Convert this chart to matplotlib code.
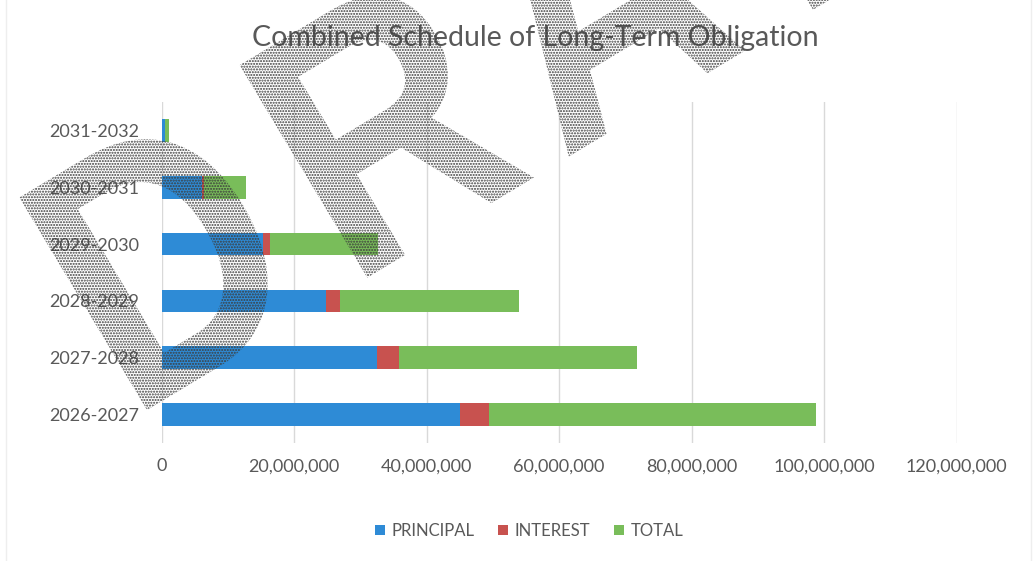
import matplotlib
matplotlib.use("Agg")
import matplotlib.pyplot as plt
from matplotlib.textpath import TextPath
from matplotlib.patches import PathPatch, Rectangle
from matplotlib.font_manager import FontProperties
from matplotlib.transforms import Affine2D
from matplotlib.ticker import FuncFormatter

# data (values in dollars)
periods = ["2026-2027", "2027-2028", "2028-2029", "2029-2030", "2030-2031", "2031-2032"]
principal = [45.0e6, 32.5e6, 24.9e6, 15.3e6, 6.05e6, 0.55e6]
interest = [4.4e6, 3.4e6, 2.1e6, 1.05e6, 0.3e6, 0.05e6]
total = [49.4e6, 35.9e6, 27.0e6, 16.35e6, 6.35e6, 0.6e6]

series_names = ["PRINCIPAL", "INTEREST", "TOTAL"]
colors = ["#2E8BD6", "#C8524F", "#79BD5A"]
title = "Combined Schedule of Long-Term Obligation"

plt.rcParams["font.family"] = ["Lato", "DejaVu Sans"]
text_gray = "#595959"

fig = plt.figure(figsize=(10.36, 5.61), dpi=100)
ax = fig.add_axes([161.5 / 1036, 118 / 561, 795 / 1036, 341 / 561])

y = range(len(periods))
left = [0] * len(periods)
for name, vals, c in zip(series_names, [principal, interest, total], colors):
    ax.barh(y, vals, left=left, height=0.4, color=c, label=name, zorder=2)
    left = [l + v for l, v in zip(left, vals)]

ax.set_xlim(0, 120e6)
ax.set_ylim(-0.5, len(periods) - 0.5)
ax.set_xticks([0, 20e6, 40e6, 60e6, 80e6, 100e6, 120e6])
ax.xaxis.set_major_formatter(FuncFormatter(lambda v, p: f"{int(v):,}"))
ax.set_yticks(list(y))
ax.set_yticklabels(periods)
ax.tick_params(axis="both", length=0, labelsize=13, labelcolor=text_gray)
ax.tick_params(axis="y", pad=16)
ax.tick_params(axis="x", pad=11)
ax.grid(axis="x", color="#d9d9d9", linewidth=1, zorder=0)
for s in ax.spines.values():
    s.set_visible(False)

fig.text(535.5 / 1036, 1 - 38 / 561, title, ha="center", va="center",
         fontsize=20.5, color=text_gray)

fig.legend(loc="center", bbox_to_anchor=(529 / 1036, 1 - 531 / 561), ncol=3,
           frameon=False, fontsize=12, labelcolor=text_gray,
           handlelength=0.6, handleheight=0.6, handletextpad=0.4,
           columnspacing=1.4)

# DRAFT watermark laid over the chart (pixel coordinates, y up)
wm = fig.add_axes([0, 0, 1, 1], zorder=5)
wm.set_xlim(0, 1036)
wm.set_ylim(0, 561)
wm.axis("off")
wm.patch.set_alpha(0)

# faint outer frame of the chart area
wm.add_patch(Rectangle((6, -2), 1025, 565, facecolor="none",
                       edgecolor="#eeeeee", lw=1))

fp = FontProperties(family="Liberation Sans", weight="bold")
cap = 258           # letter height in px
squeeze = 0.85      # letters are narrower than the font
letter_offsets = [0, 257, 492, 777, 995]
for ch, off in zip("DRAFT", letter_offsets):
    tp = TextPath((0, 0), ch, size=1, prop=fp)
    ext = tp.get_extents()
    k = cap / 0.716
    tr = (Affine2D().translate(-ext.x0, 0).scale(k * squeeze, k)
          .translate(off, 0).rotate_deg(31).translate(147, 151))
    wm.add_patch(PathPatch(tr.transform_path(tp), facecolor="none",
                           edgecolor="#3c3c3c", hatch="......", lw=0))

fig.savefig("out.png", dpi=100)
